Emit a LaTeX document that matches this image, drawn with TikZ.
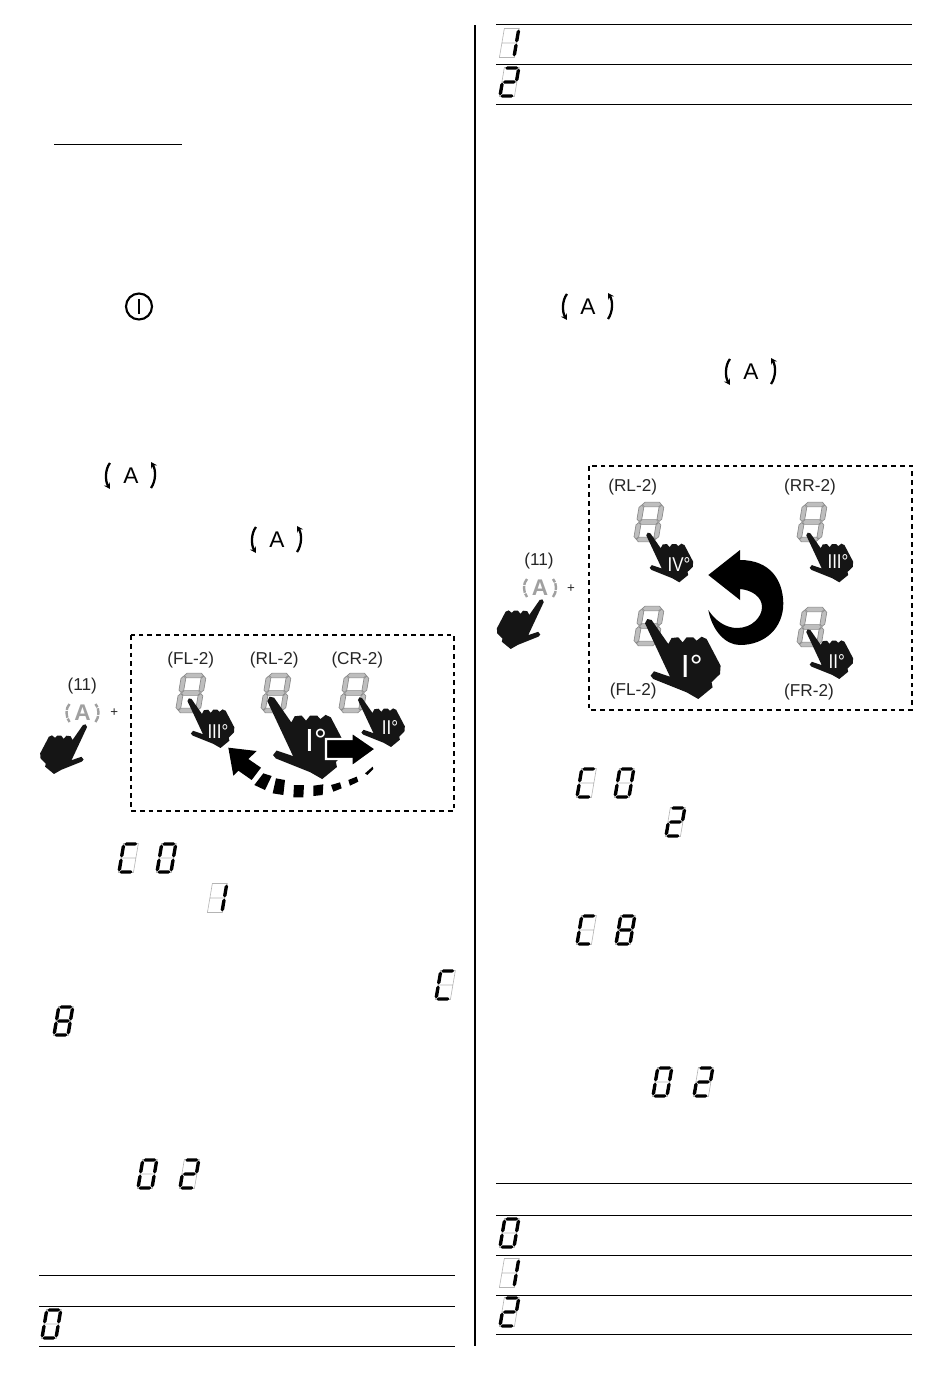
\documentclass[tikz,border=0pt]{standalone}
\usepackage{fontspec}
\setmainfont{Liberation Sans}
\usetikzlibrary{arrows.meta}
\definecolor{handcol}{HTML}{151515}
\definecolor{seglight}{HTML}{BEBEBE}
\definecolor{segdark}{HTML}{8A8A8A}
\definecolor{ghost}{HTML}{B4B4B4}
\definecolor{btngray}{HTML}{A0A0A0}
\newcommand{\hseg}[5][]{\path[#1] ({#2},{#4})--({#2+#5},{#4-#5})--({#3-#5},{#4-#5})--({#3},{#4})--({#3-#5},{#4+#5})--({#2+#5},{#4+#5})--cycle;}
\newcommand{\vseg}[5][]{\path[#1] ({#2},{#3})--({#2+#5},{#3+#5})--({#2+#5},{#4-#5})--({#2},{#4})--({#2-#5},{#4-#5})--({#2-#5},{#3+#5})--cycle;}
\newcommand{\sd}[3]{\begin{scope}[shift={(#1,{#2+28})},xslant=.17]
  \draw[ghost,line width=.45pt] (-.5,-28.5) rectangle (14.5,.5) (-.5,-14)--(14.5,-14);
  \foreach \s in {#3}{\csname sg\s\endcsname}
\end{scope}}
\def\sga{\hseg[fill=black]{.6}{13.4}{-28}{1.7}}
\def\sgb{\vseg[fill=black]{14}{-27.4}{-14.6}{1.7}}
\def\sgc{\vseg[fill=black]{14}{-13.4}{-.6}{1.7}}
\def\sgd{\hseg[fill=black]{.6}{13.4}{0}{1.7}}
\def\sge{\vseg[fill=black]{0}{-13.4}{-.6}{1.7}}
\def\sgf{\vseg[fill=black]{0}{-27.4}{-14.6}{1.7}}
\def\sgg{\hseg[fill=black]{.6}{13.4}{-14}{1.7}}
\newcommand{\bd}[2]{\begin{scope}[shift={(#1,{#2+40})},xslant=.17]
  \tikzset{bs/.style={fill=seglight,draw=segdark,line width=.5pt}}
  \hseg[bs]{3}{22}{-37.5}{2.4}
  \hseg[bs]{3}{22}{-20}{2.4}
  \hseg[bs]{3}{22}{-2.5}{2.4}
  \vseg[bs]{2.5}{-37}{-20.5}{2.4}
  \vseg[bs]{2.5}{-19.5}{-3}{2.4}
  \vseg[bs]{22.5}{-37}{-20.5}{2.4}
  \vseg[bs]{22.5}{-19.5}{-3}{2.4}
\end{scope}}
\newcommand{\abtn}[2]{\begin{scope}[shift={(#1,#2)}]
  \node[black,font=\fontsize{17pt}{17pt}\selectfont,inner sep=0pt] at (0,0) {A};
  \draw[black,line width=1.7pt,-{Stealth[length=4.5pt,width=5pt]}] (-21,-13) .. controls (-26,-7) and (-26,5) .. (-21,13);
  \draw[black,line width=1.7pt,-{Stealth[length=4.5pt,width=5pt]}] (20,12) .. controls (25,5) and (25,-6) .. (20,-14);
\end{scope}}
\newcommand{\gbtn}[2]{\begin{scope}[shift={(#1,#2)}]
  \node[btngray,font=\bfseries\fontsize{17pt}{17pt}\selectfont,inner sep=0pt] at (0,0) {A};
  \draw[btngray,line width=1.8pt,dash pattern=on 5pt off .8pt] (-13,-9) .. controls (-17,-5) and (-17,4) .. (-13,9);
  \draw[btngray,line width=1.8pt,dash pattern=on 5pt off .8pt] (13,9) .. controls (17,4) and (17,-5) .. (13,-9);
\end{scope}}
\tikzset{
  x=.75pt,y=-.75pt,
  handshape/.pic={\fill[handcol] (-3.3,3.3) -- (-1,-1) -- (3.3,0) -- (20,24) -- (23.3,18) -- (30,17.3) -- (34.3,22.3) -- (38.3,17.3) -- (45,17.3) -- (48.3,20.7) -- (53.3,16.7) -- (58.3,19) -- (72.3,45.7) -- (71.7,54) -- (63.3,62.3) -- (64.3,67.3) -- (50,79) -- (38.3,72.3) -- (5,59) -- (2.3,55.7) -- (5.7,51.3) -- (21.7,56.7) -- cycle;},
  lab/.style={inner sep=0pt,font=\fontsize{12.9pt}{14pt}\selectfont,text=black!85},
  num/.style={inner sep=0pt,text=white,font=\fontsize{15pt}{16pt}\selectfont,xscale=.85,transform shape},
  numbig/.style={inner sep=0pt,text=white,font=\fontsize{24pt}{25pt}\selectfont},
  rule/.style={line width=.7pt,black},
  panel/.style={line width=1.2pt,dash pattern=on 3.6pt off 3pt,black}
}
\begin{document}
\begin{tikzpicture}
\useasboundingbox (0,0) rectangle (950,1374);
\fill[white] (0,0) rectangle (950,1374);
\draw[rule] (54,144)--(182,144);
\draw[black,line width=1.6pt] (475,25)--(475,1346);
\foreach \y in {1275,1306,1346}{\draw[rule] (39,\y)--(455,\y);}
\foreach \y in {24,64,104,1183,1215,1255,1295,1334}{\draw[rule] (496,\y)--(912,\y);}
\draw[black,line width=1.6pt] (139,306.5) circle (13);
\draw[black,line width=1.6pt] (139,299)--(139,314);
\abtn{131}{476}
\abtn{277}{540}
\abtn{588}{307}
\abtn{751}{372}
\sd{119}{844}{a,e,f,d}
\sd{157}{844}{a,b,c,d,e,f}
\sd{208}{884}{b,c}
\sd{436}{971}{a,e,f,d}
\sd{54}{1007}{a,b,c,d,e,f,g}
\sd{138}{1160}{a,b,c,d,e,f}
\sd{180}{1160}{a,b,g,e,d}
\sd{42}{1310}{a,b,c,d,e,f}
\sd{500}{29}{b,c}
\sd{500}{68}{a,b,g,e,d}
\sd{577}{769}{a,e,f,d}
\sd{615}{769}{a,b,c,d,e,f}
\sd{666}{808}{a,b,g,e,d}
\sd{577}{916}{a,e,f,d}
\sd{616}{916}{a,b,c,d,e,f,g}
\sd{653}{1068}{a,b,c,d,e,f}
\sd{694}{1068}{a,b,g,e,d}
\sd{500}{1219}{a,b,c,d,e,f}
\sd{500}{1259}{b,c}
\sd{500}{1298}{a,b,g,e,d}
% panel 1
\draw[panel] (131,635) rectangle (454,811);
\node[lab] (l11a) at (82.3,686) {(11)};
\gbtn{82.5}{713}
\node[lab,font=\fontsize{10pt}{11pt}\selectfont] (pa) at (114.3,712.7) {+};
\pic[scale=.62,xscale=-1] at (85,725) {handshape};
\node[lab] (fl1) at (190.7,660) {(FL-2)};
\node[lab] (rl1) at (274.3,660) {(RL-2)};
\node[lab] (cr1) at (357.3,660) {(CR-2)};
\bd{175}{673}
\bd{260}{673}
\bd{338}{673}
\pic[scale=.62] at (189.5,699) {handshape};
\pic[scale=1.03] at (270.7,697.7) {handshape};
\pic[scale=.62] at (360,698) {handshape};
\node[num] (n3a) at (218,731.7) {III°};
\node[numbig] (n1a) at (316,740) {I°};
\node[num] (n2a) at (390,728) {II°};
\begin{scope}[shift={(30,625)},x=.25pt,y=-.25pt]
  \fill[black] (595,368) -- (680,378) -- (655,402) -- (693,428) -- (665,465) -- (625,437) -- (610,452) -- cycle;
  \fill[black] (700,445) -- (725,453) -- (705,495) -- (673,480) -- cycle;
  \fill[black] (738,460) -- (765,465) -- (760,510) -- (728,505) -- cycle;
  \fill[black] (792,480) -- (822,480) -- (820,517) -- (790,517) -- cycle;
  \fill[black] (850,482) -- (880,478) -- (878,510) -- (850,513) -- cycle;
  \fill[black] (903,480) -- (930,472) -- (935,490) -- (910,500) -- cycle;
  \fill[black] (955,465) -- (980,455) -- (985,470) -- (960,482) -- cycle;
  \fill[black] (1005,445) -- (1028,425) -- (1030,432) -- (1012,450) -- cycle;
  \draw[fill=black,draw=white,line width=1.6pt] (888,342) -- (965,342) -- (965,322) -- (1038,372) -- (965,425) -- (965,402) -- (888,402) -- cycle;
\end{scope}
% panel 2
\draw[panel] (589,466) rectangle (912,710);
\node[lab] (l11b) at (539,561.5) {(11)};
\gbtn{540}{588}
\node[lab,font=\fontsize{10pt}{11pt}\selectfont] (pb) at (571,589) {+};
\pic[scale=.62,xscale=-1] at (541.7,600) {handshape};
\node[lab] (rl2) at (632.7,487.3) {(RL-2)};
\node[lab] (rr2) at (810,487.3) {(RR-2)};
\node[lab] (fl2) at (633.3,690.7) {(FL-2)};
\node[lab] (fr2) at (809,692.3) {(FR-2)};
\bd{633}{502}
\bd{796}{502}
\bd{633}{606}
\bd{796}{607}
\pic[scale=.62] at (648.3,533.3) {handshape};
\pic[scale=.62] at (808.3,533.3) {handshape};
\pic[scale=.62] at (808.3,630) {handshape};
\pic[scale=1] at (648.3,620) {handshape};
\node[num] (n4b) at (679,565) {IV°};
\node[num] (n3b) at (838,561.7) {III°};
\node[num] (n2b) at (836.7,661.7) {II°};
\node[numbig] (n1b) at (691.7,666) {I°};
\fill[black] (740,560) .. controls (770,560) and (783,580) .. (783.3,603.3) .. controls (783.3,628) and (765,645) .. (740,645) .. controls (725,645) and (712,630) .. (708.3,610) .. controls (716,622) and (727,628) .. (737,628) .. controls (752,628) and (762,617) .. (762,607) .. controls (762,597) and (752,590) .. (740,589) -- (740,600) -- (708.3,575) -- (740,550) -- cycle;
\end{tikzpicture}
\end{document}
